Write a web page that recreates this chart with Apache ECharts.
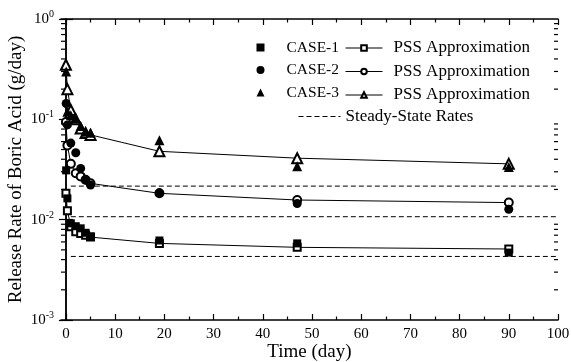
<!DOCTYPE html>
<html>
<head>
<meta charset="utf-8">
<script src="https://cdn.jsdelivr.net/npm/echarts@6/dist/echarts.min.js"></script>
<style>
  html, body { margin: 0; padding: 0; background: #fff; }
  #chart { width: 571px; height: 362px; }
</style>
</head>
<body>
<div id="chart"></div>
<script>
// measured release rates (g/day)
var days = [0.05, 0.3, 1, 2, 3, 4, 5, 19, 47, 90];
var case1 = [0.031, 0.0163, 0.0092, 0.0086, 0.0082, 0.0074, 0.0068, 0.0062, 0.0058, 0.0047];
var case2 = [0.144, 0.088, 0.058, 0.0465, 0.0324, 0.0248, 0.0221, 0.0185, 0.0145, 0.0127];
var case3 = [0.30, 0.119, 0.110, 0.102, 0.086, 0.075, 0.0735, 0.062, 0.034, 0.0335];

// PSS approximation
var pssDays = [0, 0.3, 1, 2, 3, 4, 5, 19, 47, 90];
var pss1 = [0.0183, 0.0123, 0.0085, 0.0076, 0.0073, 0.0070, 0.0067, 0.0058, 0.0053, 0.0051];
var pss2 = [0.094, 0.055, 0.036, 0.029, 0.027, 0.025, 0.023, 0.0183, 0.0157, 0.0148];
var pss3 = [0.35, 0.20, 0.124, 0.10, 0.081, 0.073, 0.070, 0.048, 0.041, 0.036];

// steady-state rates
var steady = [0.0043, 0.0107, 0.0216];
var steadySpan = [1, 100];

// ticks
var xMajor = [0, 10, 20, 30, 40, 50, 60, 70, 80, 90, 100];
var xMinor = [5, 15, 25, 35, 45, 55, 65, 75, 85, 95];
var yMinor = [];
[0.001, 0.01, 0.1].forEach(function (d) {
  for (var k = 2; k <= 9; k++) yMinor.push(+(k * d).toPrecision(2));
});

var font = 'Liberation Serif';
var xMin = -1, xMax = 100;

function pairs(xs, ys) {
  return xs.map(function (x, i) { return [x, ys[i]]; });
}

var chart = echarts.init(document.getElementById('chart'), null, { renderer: 'canvas' });

function xAxisDef(pos, ticks, len, main) {
  return {
    type: 'value', position: pos, min: xMin, max: xMax,
    axisLine: { show: main, lineStyle: { color: '#000', width: 1.5 } },
    axisTick: { inside: true, length: len, customValues: ticks, lineStyle: { color: '#000', width: 1.2 } },
    axisLabel: {
      show: main && pos === 'bottom', customValues: xMajor, margin: 7,
      color: '#000', fontFamily: font, fontSize: 15
    },
    splitLine: { show: false },
    name: main && pos === 'bottom' ? 'Time (day)' : '',
    nameLocation: 'middle', nameGap: 23, nameMoveOverlap: false,
    nameTextStyle: { color: '#000', fontFamily: font, fontSize: 19 }
  };
}

function yAxisDef(pos) {
  var left = pos === 'left';
  return {
    type: 'log', logBase: 10, position: pos, min: 0.001, max: 1,
    axisLine: { show: true, lineStyle: { color: '#000', width: 1.5 } },
    axisTick: { inside: true, length: 7, lineStyle: { color: '#000', width: 1.2 } },
    axisLabel: {
      show: left, margin: 7,
      formatter: function (v) {
        var e = Math.round(Math.log10(v));
        return '{b|10}{s|' + e + '}';
      },
      rich: {
        b: { fontFamily: font, fontSize: 15, color: '#000' },
        s: { fontFamily: font, fontSize: 10, color: '#000', padding: [0, 0, 9, 0] }
      }
    },
    splitLine: { show: false },
    name: left ? 'Release Rate of Boric Acid (g/day)' : '',
    nameLocation: 'middle', nameGap: 35, nameMoveOverlap: false,
    nameTextStyle: { color: '#000', fontFamily: font, fontSize: 19 }
  };
}

function pssSeries(name, ys, sym, size) {
  return {
    name: name, type: 'line', data: pairs(pssDays, ys),
    symbol: sym, symbolSize: size, showAllSymbol: true,
    lineStyle: { color: '#000', width: 1 },
    itemStyle: { color: '#000', borderColor: '#000', borderWidth: 1 },
    z: 3
  };
}

function caseSeries(name, ys, sym, size) {
  return {
    name: name, type: 'scatter', data: pairs(days, ys),
    symbol: sym, symbolSize: size,
    itemStyle: { color: '#000', opacity: 1 },
    z: 4
  };
}

function steadySeries(v) {
  return {
    name: 'Steady-State Rates', type: 'line',
    data: steadySpan.map(function (x) { return [x, v]; }),
    symbol: 'none',
    lineStyle: { color: '#000', width: 1, type: [5, 3] },
    itemStyle: { color: '#000' },
    z: 2
  };
}

var legendText = { color: '#000', fontFamily: font, fontSize: 17 };

var option = {
  backgroundColor: '#fff',
  animation: false,
  grid: { left: 61, right: 13, top: 19, bottom: 42, outerBoundsMode: 'none', containLabel: false },
  legend: [
    {
      data: ['CASE-1', 'CASE-2', 'CASE-3'], orient: 'vertical', padding: 0,
      left: 256.5, top: 39.5, itemWidth: 8, itemHeight: 8, itemGap: 6.5,
      selectedMode: false,
      textStyle: Object.assign({}, legendText, { fontSize: 15.5, padding: [0, 0, 0, 17] })
    },
    {
      data: ['PSS-1', 'PSS-2', 'PSS-3'], orient: 'vertical', padding: 0,
      left: 345, top: 39.5, itemWidth: 37, itemHeight: 7, itemGap: 6.5,
      selectedMode: false,
      formatter: function () { return 'PSS Approximation'; },
      lineStyle: { width: 1 },
      itemStyle: { borderWidth: 1 },
      textStyle: Object.assign({}, legendText, { padding: [0, 0, 0, 6] })
    },
    {
      data: ['Steady-State Rates'], orient: 'vertical', padding: 0,
      left: 298, top: 108, itemWidth: 42, itemHeight: 9,
      selectedMode: false,
      itemStyle: { opacity: 0 },
      lineStyle: { width: 1 },
      textStyle: legendText
    }
  ],
  xAxis: [
    xAxisDef('bottom', xMajor, 6, true),
    xAxisDef('bottom', xMinor, 3.5, false),
    xAxisDef('top', xMajor, 6, true),
    xAxisDef('top', xMinor, 3.5, false)
  ],
  yAxis: [yAxisDef('left'), yAxisDef('right')],
  series: [
    steadySeries(steady[0]),
    steadySeries(steady[1]),
    steadySeries(steady[2]),
    pssSeries('PSS-1', pss1, 'emptyRect', 7),
    pssSeries('PSS-2', pss2, 'emptyCircle', 8),
    pssSeries('PSS-3', pss3, 'emptyTriangle', 10),
    caseSeries('CASE-1', case1, 'rect', 8),
    caseSeries('CASE-2', case2, 'circle', 9),
    caseSeries('CASE-3', case3, 'triangle', 10),
    {
      // minor log ticks on left and right frame
      type: 'custom', silent: true, clip: false, z: 5,
      data: yMinor.map(function (v) { return [xMin, v]; }),
      renderItem: function (params, api) {
        var v = api.value(1);
        var pl = api.coord([xMin, v]);
        var pr = api.coord([xMax, v]);
        var st = { stroke: '#000', lineWidth: 1.2 };
        return {
          type: 'group',
          children: [
            { type: 'line', shape: { x1: pl[0], y1: pl[1], x2: pl[0] + 4, y2: pl[1] }, style: st },
            { type: 'line', shape: { x1: pr[0] - 4, y1: pr[1], x2: pr[0], y2: pr[1] }, style: st }
          ]
        };
      }
    }
  ]
};

chart.setOption(option);
window.addEventListener('resize', chart.resize);
</script>
</body>
</html>
